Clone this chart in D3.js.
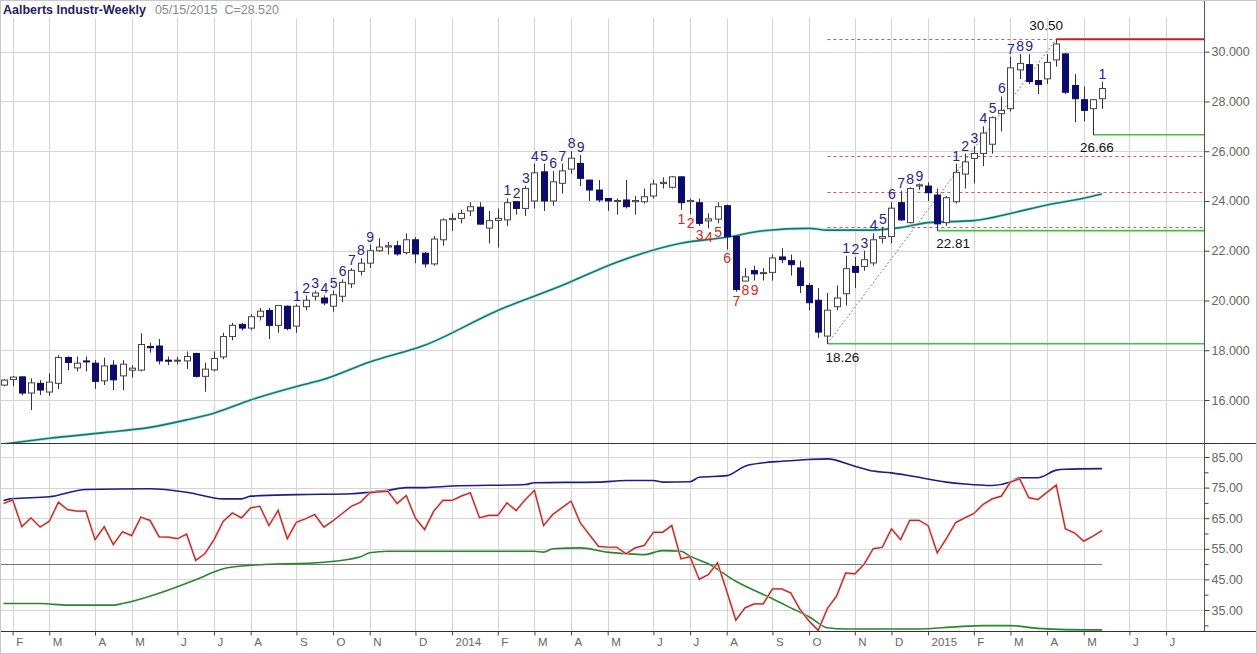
<!DOCTYPE html>
<html><head><meta charset="utf-8">
<script src="https://cdn.jsdelivr.net/npm/d3@7"></script>
<style>body{margin:0;background:#fff}svg{display:block;font-family:"Liberation Sans",Arial,sans-serif}</style>
</head><body><svg id="c" width="1257" height="654"></svg>
<script>
// ---------- DATA ----------
const title = "Aalberts Industr-Weekly";
const subTitle = "05/15/2015  C=28.520";
const startDate = new Date(2013, 0, 25);   // first weekly bar
const totalSlots = 132;                      // weeks shown on the axis
const monthLabels = ["F","M","A","M","J","J","A","S","O","N","D","2014","F","M","A","M","J","J","A","S","O","N","D","2015","F","M","A","M","J","J"];
const opens  = [16.6,16.82,16.93,16.28,16.67,16.32,16.67,17.71,17.29,17.57,17.48,16.77,17.4,16.97,17.2,17.2,18.15,18.17,17.6,17.57,17.57,17.87,16.95,17.21,17.73,18.55,19.04,18.89,19.35,19.6,19.0,19.77,18.97,19.75,20.17,20.1,19.77,20.17,20.67,21.17,21.5,22.0,22.15,22.2,21.93,22.44,21.9,21.47,22.44,23.25,23.3,23.6,23.75,22.91,23.22,23.24,23.97,23.7,24.0,25.17,24.0,24.71,25.28,25.51,24.84,24.44,24.1,24.0,24.04,23.97,23.97,24.2,24.7,24.55,24.97,23.97,23.93,23.2,23.27,23.81,22.57,20.78,21.2,21.08,21.13,21.75,21.6,21.31,20.6,20.01,18.57,19.75,20.27,21.37,21.37,21.51,22.5,22.57,23.93,23.13,24.6,24.6,24.24,23.13,23.97,25.08,25.71,25.91,26.28,27.51,27.71,29.27,29.48,28.84,28.91,29.67,29.91,28.64,28.07,27.71,28.11];
const highs  = [16.85,16.96,16.95,16.87,16.8,17.07,17.8,17.75,17.75,17.75,17.6,17.7,17.6,17.6,17.4,18.68,18.3,18.45,17.75,17.73,17.95,17.9,17.5,17.95,18.7,19.1,19.1,19.45,19.7,19.7,19.8,19.8,19.85,20.2,20.4,20.2,20.4,20.85,21.3,21.7,22.25,22.5,22.35,22.4,22.7,22.55,21.95,22.6,23.3,23.5,23.65,23.95,23.95,23.6,23.7,24.1,24.0,24.6,25.5,25.5,25.2,25.5,26.0,25.85,24.85,24.84,24.1,24.1,24.85,24.2,24.5,24.85,24.95,25.0,25.0,24.1,24.1,23.5,23.95,23.85,22.6,21.3,21.4,21.3,21.85,22.1,21.85,21.6,20.7,20.5,20.3,20.6,21.8,21.75,22.0,22.7,22.95,23.95,24.4,24.55,24.7,24.75,24.5,24.2,25.5,25.9,26.2,27.0,27.4,28.2,29.8,29.9,29.9,29.5,29.9,30.5,29.95,29.1,28.6,28.1,28.8];
const lows   = [16.55,16.55,16.2,15.6,16.2,16.17,16.44,17.2,17.15,17.15,16.45,16.6,16.4,16.4,16.9,17.15,17.9,17.43,17.4,17.43,17.25,16.9,16.33,17.15,17.64,18.4,18.8,18.8,19.2,18.45,18.7,18.8,18.7,19.6,20.0,19.8,19.55,19.93,20.5,21.0,21.3,21.95,21.85,21.8,21.85,21.5,21.32,21.4,22.2,22.8,23.1,23.4,23.05,22.3,22.13,23.0,23.45,23.4,23.7,23.6,23.8,24.3,25.1,24.6,24.0,23.95,23.6,23.45,23.7,23.45,23.9,24.1,24.5,24.5,23.65,23.47,23.0,22.9,23.1,22.05,20.35,20.8,20.8,20.8,20.8,21.5,21.0,20.3,19.6,18.5,18.26,19.6,19.8,20.5,21.2,21.4,22.3,22.3,23.2,23.1,24.45,24.0,22.81,23.0,23.9,24.5,24.7,25.4,25.9,26.8,27.6,28.9,28.7,28.3,28.7,29.4,28.3,27.17,27.2,26.66,27.7];
const closes = [16.8,16.92,16.28,16.69,16.4,16.72,17.71,17.51,17.48,17.53,16.75,17.37,16.81,17.44,17.28,18.23,18.1,17.57,17.57,17.6,17.75,16.95,17.24,17.67,18.55,19.0,18.89,19.35,19.57,19.0,19.8,18.87,19.77,20.01,20.3,19.9,20.23,20.73,21.21,21.5,22.0,22.15,22.2,21.87,22.44,21.87,21.47,22.47,23.24,23.3,23.5,23.77,23.07,23.21,23.3,23.93,23.7,24.5,25.13,24.0,24.77,25.21,25.72,24.91,24.44,24.04,24.0,24.02,23.77,24.02,24.17,24.68,24.75,24.97,23.93,24.02,23.1,23.28,23.77,22.57,20.44,20.95,21.07,21.12,21.71,21.64,21.44,20.6,19.91,18.73,19.61,20.1,21.28,21.13,21.64,22.44,22.57,23.71,23.24,24.5,24.65,24.33,23.08,24.13,25.15,25.57,25.91,26.73,27.35,27.64,29.35,29.53,28.8,28.68,29.57,30.31,28.37,28.11,27.64,28.07,28.52];

// TD sequential counts
const buyCountIdx = [32,33,34,35,36,37,38,39,40, 55,56,57,58,59,60,61,62,63, 92,93,94,95,96,97,98,99,100, 104,105,106,107,108,109,110,111,112, 120];
const buyCountLbl = [1,2,3,4,5,6,7,8,9, 1,2,3,4,5,6,7,8,9, 1,2,3,4,5,6,7,8,9, 1,2,3,4,5,6,7,8,9, 1];
const sellCountIdx = [74,75,76,77,78,79,80,81,82];
const sellCountLbl = [1,2,3,4,5,6,7,8,9];

// moving average (sampled bar index / value)
const maIdx = [0,5,11,16,20,23,27,32,35,40,46,54,61,67,74,79,83,88,90,95,98,101,106,110,114,118,120];
const maVal = [14.23,14.46,14.69,14.9,15.2,15.47,16.0,16.54,16.83,17.53,18.2,19.6,20.6,21.54,22.3,22.54,22.8,22.9,22.83,22.83,22.93,23.13,23.21,23.5,23.84,24.11,24.28];

// indicator panel
const oscVal = [69.8,71.0,62.2,65.1,62.1,64.0,70.2,67.8,67.3,67.3,58.0,62.2,56.4,60.6,59.3,65.3,64.3,58.9,58.8,58.3,59.8,51.2,53.4,58.0,64.0,66.7,65.1,68.4,68.9,62.6,67.5,58.3,63.7,64.8,66.2,62.1,64.2,66.5,68.9,70.2,73.3,73.6,73.8,69.8,72.4,65.0,61.3,67.3,70.8,70.8,72.2,73.3,65.1,65.9,65.9,70.0,67.5,71.1,74.1,62.6,66.2,68.4,70.6,63.5,59.6,55.8,55.5,55.5,53.4,55.3,56.1,60.4,60.4,62.6,51.7,52.4,45.0,46.6,50.4,41.2,31.7,35.7,37.0,37.0,41.9,41.9,40.6,35.2,31.4,28.3,35.5,39.5,47.1,46.8,49.9,55.0,55.5,61.5,58.0,64.3,64.3,62.6,53.7,58.3,63.5,65.1,66.5,69.5,71.3,72.2,76.8,77.9,71.7,71.1,73.5,75.8,61.5,60.2,57.5,59.1,61.0];
const upperIdx = [0,1,5,9,16,20,24,26,27,32,38,40,42,44,46,49,57,58,65,68,71,72,75,76,79,81,83,85,88,90,93,95,97,99,103,105,108,110,111,113,115,116,120];
const upperVal = [70.8,71.4,72.0,74.4,74.6,73.5,71.3,71.3,72.2,72.7,73.0,73.5,74.1,75.0,75.0,75.5,76.0,76.6,76.8,77.3,77.3,76.8,76.9,78.4,78.9,82.0,83.1,83.6,84.2,84.4,82.0,80.4,79.8,78.9,76.8,76.2,75.7,76.8,78.2,78.2,80.7,81.0,81.2];
const lowerIdx = [0,4,7,12,13,17,21,24,27,35,39,40,42,46,50,58,59,60,63,66,68,70,72,74,75,77,80,84,86,88,90,92,100,104,107,110,113,116,120];
const lowerVal = [37.1,37.1,36.6,36.6,37.1,40.5,44.9,48.5,49.6,50.6,52.4,53.7,54.2,54.2,54.2,54.2,53.9,55.0,55.3,53.9,53.4,53.1,54.4,54.2,52.6,50.1,44.4,38.7,35.7,32.8,29.2,28.8,28.8,29.5,29.9,29.9,29.0,28.6,28.5];
const midLevel = 50;

// annotation levels
const swingLowIdx = 90,  swingLowVal = 18.26;
const swingHighIdx = 115, swingHighVal = 30.50;
const fibLevels = [30.5, 25.82, 24.38, 22.94];
const supportIdx = [90, 102, 119];
const supportVal = [18.26, 22.81, 26.66];
const priceTicks = [16,18,20,22,24,26,28,30];
const oscTicks = [35,45,55,65,75,85];
const oscMinor = [30,40,50,60,70,80];

// ---------- DRAW ----------
const svg = d3.select("#c");
const RIGHT = 1204, TOP = 18, SEP = 443, BOT = 631;

const x = d3.scaleLinear().domain([0, 120]).range([3.5, 1102]);
const yP = d3.scaleLinear().domain([16, 30]).range([400, 51.7]);
const yI = d3.scaleLinear().domain([35, 85]).range([610, 457]);

const dates = d3.range(totalSlots).map(i => d3.timeWeek.offset(startDate, i));
const monthIdx = d3.range(1, totalSlots).filter(i => dates[i].getMonth() !== dates[i-1].getMonth());

const grid = "#d4d4d4";
const defs = svg.append("defs");
defs.append("clipPath").attr("id","cTop").append("rect").attr("x",0).attr("y",TOP).attr("width",RIGHT).attr("height",SEP-TOP);
defs.append("clipPath").attr("id","cBot").append("rect").attr("x",0).attr("y",SEP).attr("width",RIGHT).attr("height",BOT-SEP);

// vertical grid
svg.append("g").selectAll("line").data(monthIdx.filter(i => x(i) < RIGHT)).join("line")
  .attr("x1", d => Math.round(x(d))+0.5).attr("x2", d => Math.round(x(d))+0.5)
  .attr("y1", TOP).attr("y2", BOT).attr("stroke", grid).attr("stroke-width",1);
// horizontal grid
svg.append("g").selectAll("line").data(priceTicks).join("line")
  .attr("x1",0).attr("x2",RIGHT).attr("y1",d=>Math.round(yP(d))+0.5).attr("y2",d=>Math.round(yP(d))+0.5)
  .attr("stroke",grid);
svg.append("g").selectAll("line").data(oscTicks).join("line")
  .attr("x1",0).attr("x2",RIGHT).attr("y1",d=>Math.round(yI(d))+0.5).attr("y2",d=>Math.round(yI(d))+0.5)
  .attr("stroke",grid);

// title
const ttl = svg.append("text").attr("x",3).attr("y",14).attr("font-size",12.5);
ttl.append("tspan").attr("font-weight","bold").attr("fill","#1f1f5c").text(title);
ttl.append("tspan").attr("dx",9).attr("fill","#8a8a8a").attr("xml:space","preserve").text(subTitle);

const gTop = svg.append("g").attr("clip-path","url(#cTop)");

// fib dotted levels
const fibStart = x(swingLowIdx);
gTop.append("g").selectAll("line").data(fibLevels).join("line")
  .attr("x1", fibStart).attr("x2", RIGHT).attr("y1", d=>Math.round(yP(d))+0.5).attr("y2", d=>Math.round(yP(d))+0.5)
  .attr("stroke","#e05050").attr("stroke-dasharray","3,3").attr("stroke-width",1);

// diagonal dotted line
gTop.append("line").attr("x1",x(swingLowIdx)).attr("y1",yP(swingLowVal)).attr("x2",x(swingHighIdx)).attr("y2",yP(swingHighVal))
  .attr("stroke","#888").attr("stroke-dasharray","2,2");

// moving average
const maLine = d3.line().x(d=>x(d[0])).y(d=>yP(d[1])).curve(d3.curveMonotoneX);
const maPts = maIdx.map((d,i)=>[d,maVal[i]]);
gTop.append("path").datum(maPts).attr("d", maLine).attr("fill","none").attr("stroke","#b8ecea").attr("stroke-width",3.2);
gTop.append("path").datum(maPts).attr("d", maLine).attr("fill","none").attr("stroke","#17766f").attr("stroke-width",1.6);

// support lines (green) and resistance (red)
gTop.append("g").selectAll("line").data(supportIdx).join("line")
  .attr("x1", d=>x(d)).attr("x2", RIGHT).attr("y1",(d,i)=>yP(supportVal[i])).attr("y2",(d,i)=>yP(supportVal[i]))
  .attr("stroke","#3cc43c").attr("stroke-width",1.6);
gTop.append("line").attr("x1",x(swingHighIdx)).attr("x2",RIGHT).attr("y1",yP(swingHighVal)).attr("y2",yP(swingHighVal))
  .attr("stroke","#c01f22").attr("stroke-width",2);

// candles
const bars = gTop.append("g").selectAll("g").data(opens.map((o,i)=>({i,o,h:highs[i],l:lows[i],c:closes[i]}))).join("g");
bars.append("line").attr("x1",d=>Math.round(x(d.i))+0.5).attr("x2",d=>Math.round(x(d.i))+0.5)
  .attr("y1",d=>yP(d.h)).attr("y2",d=>yP(d.l)).attr("stroke","#333").attr("stroke-width",1);
bars.append("rect").attr("x",d=>Math.round(x(d.i))-2.5).attr("width",6)
  .attr("y",d=>yP(Math.max(d.o,d.c))).attr("height",d=>Math.max(1,Math.abs(yP(d.o)-yP(d.c))))
  .attr("fill",d=>d.c>=d.o?"#fff":"#0c0c6a").attr("stroke",d=>d.c>=d.o?"#444":"#0c0c6a").attr("stroke-width",1);

// TD counts
gTop.append("g").selectAll("text").data(buyCountIdx).join("text")
  .attr("x",d=>x(d)+0.5).attr("y",d=>yP(highs[d])-3).attr("text-anchor","middle")
  .attr("font-size",14).attr("fill","#25258a").text((d,i)=>buyCountLbl[i]);
gTop.append("g").selectAll("text").data(sellCountIdx).join("text")
  .attr("x",d=>x(d)+0.5).attr("y",d=>yP(lows[d])+14).attr("text-anchor","middle")
  .attr("font-size",14).attr("fill","#cc2a24").text((d,i)=>sellCountLbl[i]);

// value labels
const vl = gTop.append("g").attr("font-size",13.5).attr("fill","#111");
const f2 = d3.format(".2f");
vl.append("text").attr("x",x(swingHighIdx)-10).attr("y",yP(swingHighVal)-9).attr("text-anchor","middle").text(f2(swingHighVal));
vl.append("text").attr("x",x(swingLowIdx)+15).attr("y",yP(swingLowVal)+18).attr("text-anchor","middle").text(f2(swingLowVal));
vl.append("text").attr("x",x(supportIdx[1])+16).attr("y",yP(supportVal[1])+17).attr("text-anchor","middle").text(f2(supportVal[1]));
vl.append("text").attr("x",x(supportIdx[2])+4).attr("y",yP(supportVal[2])+17).attr("text-anchor","middle").text(f2(supportVal[2]));

// lower panel
const gBot = svg.append("g").attr("clip-path","url(#cBot)");
gBot.append("line").attr("x1",0).attr("x2",x(120)).attr("y1",Math.round(yI(midLevel))+0.5).attr("y2",Math.round(yI(midLevel))+0.5).attr("stroke","#777");
const bandLine = d3.line().x(d=>x(d[0])).y(d=>yI(d[1])).curve(d3.curveMonotoneX);
gBot.append("path").datum(upperIdx.map((d,i)=>[d,upperVal[i]])).attr("d", bandLine)
  .attr("fill","none").attr("stroke","#1c1c8c").attr("stroke-width",1.6);
gBot.append("path").datum(lowerIdx.map((d,i)=>[d,lowerVal[i]])).attr("d", bandLine)
  .attr("fill","none").attr("stroke","#2a862a").attr("stroke-width",1.6);
const oscLine = d3.line().x(d=>x(d[0])).y(d=>yI(d[1]));
const oscPts = oscVal.map((v,i)=>[i,v]);
gBot.append("path").datum(oscPts).attr("d", oscLine).attr("fill","none").attr("stroke","#f3c0c0").attr("stroke-width",2.4);
gBot.append("path").datum(oscPts).attr("d", oscLine).attr("fill","none").attr("stroke","#b8281f").attr("stroke-width",1.2);

// frame lines
svg.append("line").attr("x1",0).attr("x2",1257).attr("y1",SEP+0.5).attr("y2",SEP+0.5).attr("stroke","#333");
svg.append("line").attr("x1",0).attr("x2",1257).attr("y1",BOT+0.5).attr("y2",BOT+0.5).attr("stroke","#333");
svg.append("line").attr("x1",RIGHT+0.5).attr("x2",RIGHT+0.5).attr("y1",0).attr("y2",BOT).attr("stroke","#555");

// axes
const axP = svg.append("g").attr("transform",`translate(${RIGHT+0.5},0)`)
  .call(d3.axisRight(yP).tickValues(priceTicks).tickFormat(d3.format(".3f")).tickSize(5));
const axI = svg.append("g").attr("transform",`translate(${RIGHT+0.5},0)`)
  .call(d3.axisRight(yI).tickValues(oscTicks).tickFormat(d3.format(".2f")).tickSize(5));
svg.append("g").attr("transform",`translate(${RIGHT+0.5},0)`)
  .call(d3.axisRight(yI).tickValues(oscMinor).tickFormat("").tickSize(4));
const axX = svg.append("g").attr("transform",`translate(0,${BOT+0.5})`)
  .call(d3.axisBottom(x).tickValues(monthIdx).tickFormat((d,i)=>monthLabels[i]).tickSize(4));
svg.selectAll(".domain").remove();
svg.selectAll(".tick line").attr("stroke","#444");
[axP,axI].forEach(a=>a.selectAll("text").attr("font-size",12.5).attr("fill","#666").attr("x",7));
axX.selectAll("text").attr("font-size",11.5).attr("fill","#666").attr("text-anchor","start").attr("dx",3).attr("y",6);

// outer border
svg.append("rect").attr("x",0.5).attr("y",0.5).attr("width",1256).attr("height",653).attr("fill","none").attr("stroke","#c8c8c8");
</script></body></html>
